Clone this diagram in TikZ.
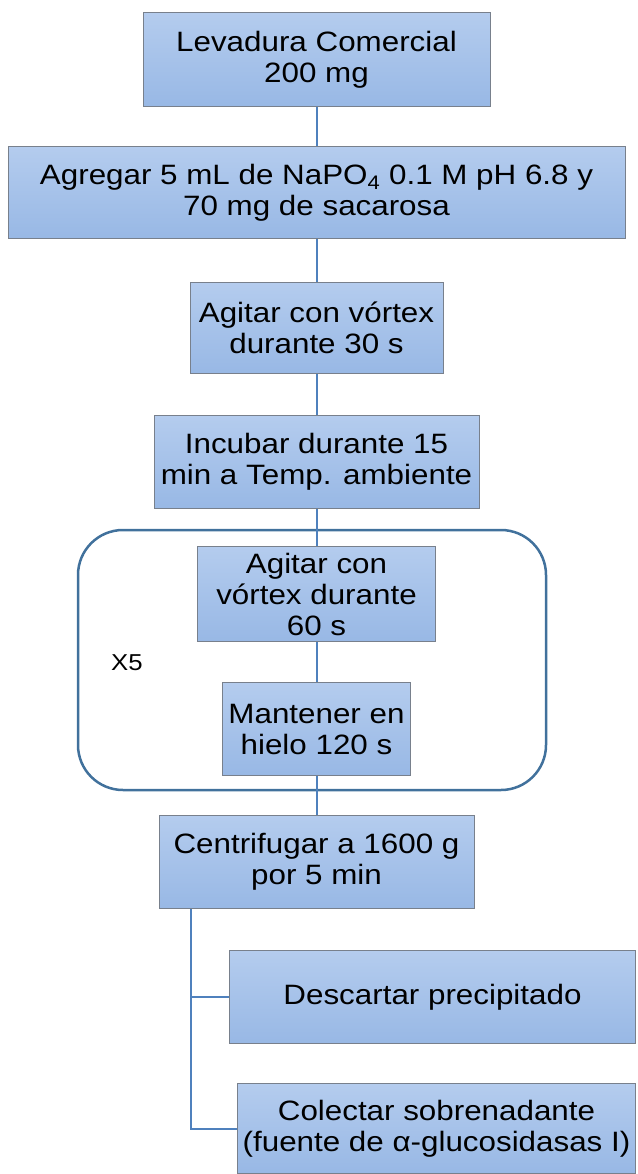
\documentclass[tikz,border=0pt]{standalone}
\usepackage{fontspec}
\setmainfont{Liberation Sans}[FakeStretch=1.12]
\usepackage{tikz}
\usetikzlibrary{positioning}
\definecolor{lineaazul}{RGB}{79,129,189}
\definecolor{marcoazul}{RGB}{65,113,156}
\definecolor{cajaarriba}{RGB}{180,204,238}
\definecolor{cajaabajo}{RGB}{152,184,229}
\definecolor{bordegris}{RGB}{120,128,140}
\tikzset{
  %Define style for boxes
  caja/.style={
    rectangle,
    draw=bordegris, line width=1pt,
    top color=cajaarriba, bottom color=cajaabajo,
    minimum height=93pt,
    inner sep=1pt,
    align=center,
    font=\fontsize{28}{31}\selectfont},
  % Define line style
  linea/.style={
    color=lineaazul,
    line width=2pt},
  % Define style for the loop frame
  marco/.style={
    draw=marcoazul,
    line width=2.5pt,
    rounded corners=45pt}
}

\begin{document}
\begin{tikzpicture}[x=1pt,y=1pt,node distance=39pt]
  \useasboundingbox (0,0) rectangle (637,-1174);
  \draw[marco] (78,-530) rectangle (546,-790);
  \node[caja, minimum width=347pt, minimum height=94pt] (lev) at (316.5,-59.5) {Levadura Comercial\\200 mg};
  \node[caja, minimum width=617pt, minimum height=92pt, below=of lev] (agr) {Agregar 5 mL de NaPO\textsubscript{4} 0.1 M pH 6.8 y\\70 mg de sacarosa};
  \node[caja, minimum width=253pt, minimum height=91pt, below=43pt of agr] (vort) {Agitar con vórtex\\durante 30 s};
  \node[caja, minimum width=325pt, below=41pt of vort] (incu) {Incubar durante 15\\min a Temp. ambiente};
  \node[caja, minimum width=238pt, minimum height=95pt, below=37pt of incu] (vortdos) {Agitar con\\vórtex durante\\60 s};
  \node[caja, minimum width=188pt, below=40pt of vortdos] (mant) {Mantener en\\hielo 120 s};
  \node[caja, minimum width=315pt, below=39pt of mant] (cent) {Centrifugar a 1600 g\\por 5 min};
  \node[caja, anchor=north west, minimum width=406pt] (desc) at (229,-950) {Descartar precipitado};
  \node[caja, anchor=north west, minimum width=398pt, minimum height=90pt] (colec) at (237,-1083) {Colectar sobrenadante\\(fuente de α-glucosidasas I)};
  \node[font=\fontsize{23}{27}\selectfont] (veces) at (127,-663) {X5};
  \coordinate (rama) at ([xshift=32pt]cent.south west);
  \path[linea]
  (lev) edge (agr)
  (agr) edge (vort)
  (vort) edge (incu)
  (incu) edge (vortdos)
  (vortdos) edge (mant)
  (mant) edge (cent);
  \draw[linea] (rama) |- (desc.west);
  \draw[linea] (rama) |- (colec.west);
\end{tikzpicture}
\end{document}
